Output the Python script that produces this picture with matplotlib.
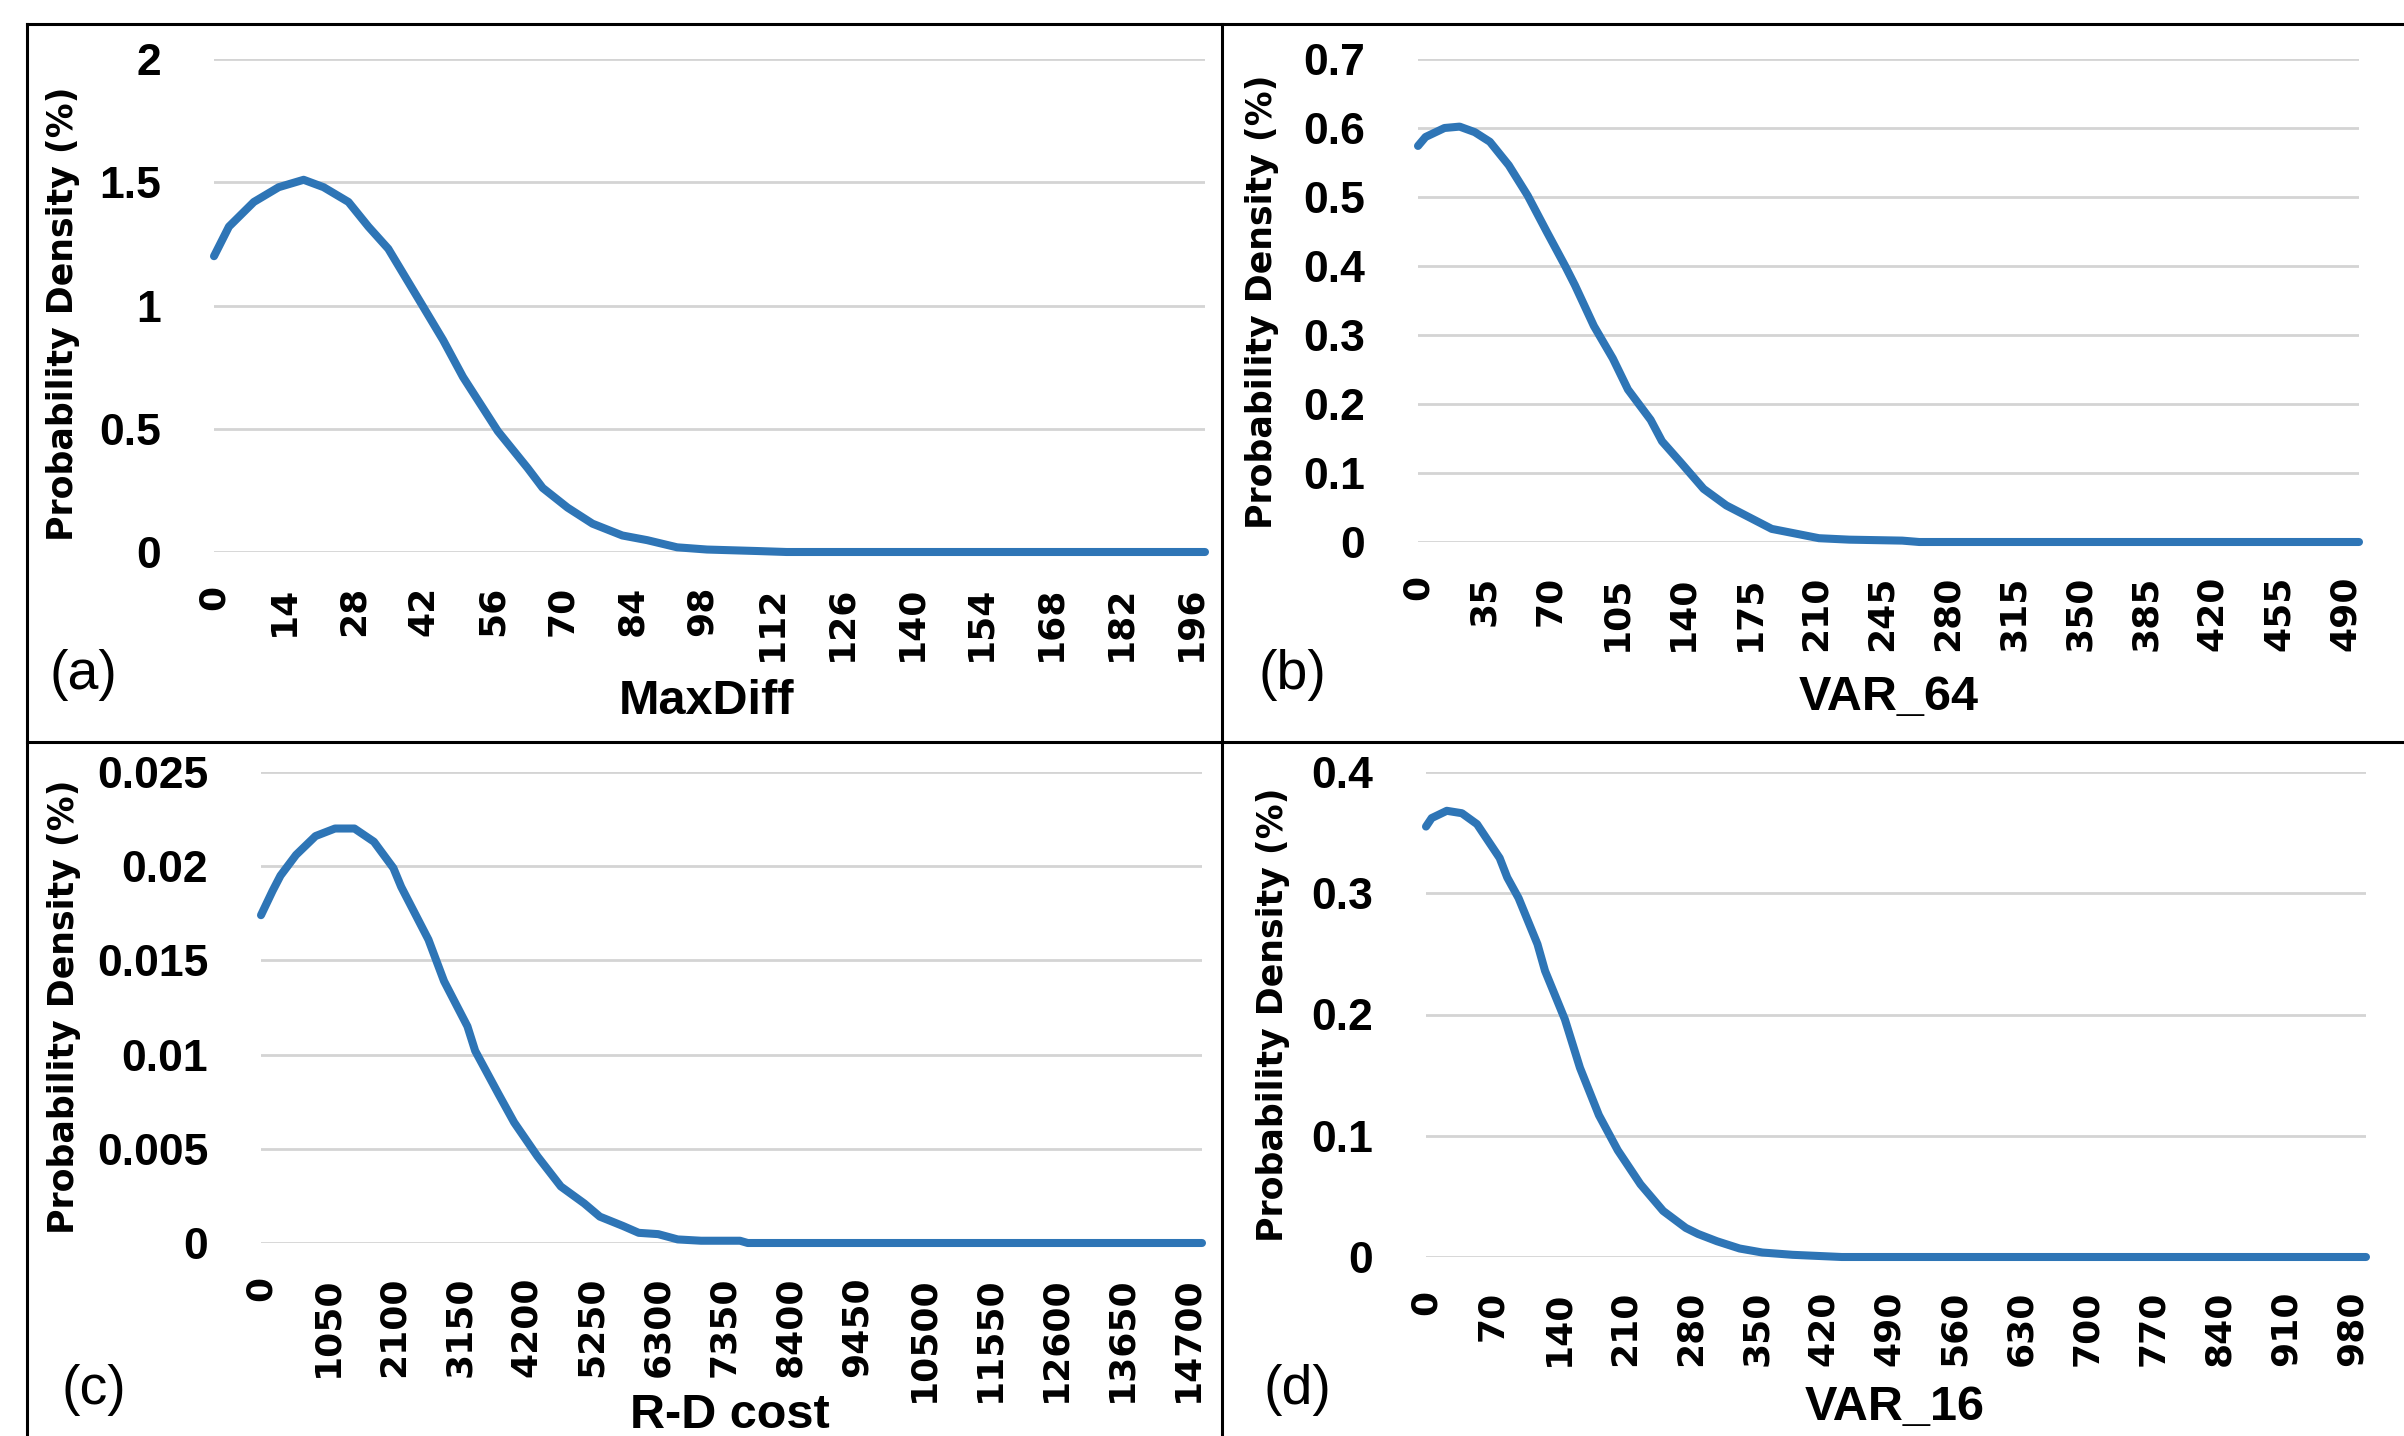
import numpy as np
import matplotlib
matplotlib.use('Agg')
import matplotlib.pyplot as plt
from matplotlib.lines import Line2D

# figure size in pixels (dpi 100)
W, H = 2404, 1436

LINE_COLOR = '#2E75B6'
GRID_COLOR = '#D4D4D4'
NARROW = ['Liberation Sans', 'DejaVu Sans']
WIDE = ['DejaVu Sans']

# (a) MaxDiff
maxdiff_x = [0, 3, 8, 13, 18, 22, 27, 31, 35, 42, 46, 50, 57, 63, 66, 71, 76,
             82, 87, 93, 99, 109, 115, 199]
maxdiff_y = [1.20, 1.32, 1.42, 1.48, 1.51, 1.48, 1.42, 1.32, 1.23, 0.995, 0.86,
             0.71, 0.49, 0.34, 0.26, 0.18, 0.115, 0.067, 0.048, 0.019, 0.010,
             0.004, 0.0, 0.0]

# (b) VAR_64
var64_x = [0, 4, 14, 22, 30, 38, 48, 58, 68, 78, 83, 93, 103, 111, 123, 129,
           139, 151, 163, 175, 187, 200, 212, 228, 256, 265, 497.5]
var64_y = [0.574, 0.587, 0.600, 0.602, 0.594, 0.580, 0.546, 0.502, 0.450, 0.399,
           0.372, 0.313, 0.266, 0.221, 0.177, 0.146, 0.115, 0.077, 0.053, 0.036,
           0.019, 0.012, 0.0055, 0.0034, 0.002, 0.0, 0.0]

# (c) R-D cost
rdcost_x = [0, 185, 309, 556, 865, 1174, 1482, 1791, 2100, 2224, 2656, 2903,
            3274, 3397, 3768, 4015, 4385, 4756, 5127, 5374, 5744, 5991, 6300,
            6609, 6980, 7597, 7720, 14925]
rdcost_y = [0.0174, 0.0187, 0.0195, 0.0206, 0.0216, 0.0220, 0.0220, 0.0213,
            0.0199, 0.0189, 0.0161, 0.0139, 0.0115, 0.0102, 0.0079, 0.0064,
            0.0046, 0.0030, 0.0021, 0.0014, 0.0009, 0.00054, 0.00047, 0.00019,
            0.00012, 0.00012, 0.0, 0.0]

# (d) VAR_16
var16_x = [0, 6, 22, 38, 54, 78, 86, 98, 118, 126, 147, 163, 183, 203, 227, 251,
           275, 288, 308, 332, 356, 388, 420, 440, 995]
var16_y = [0.355, 0.362, 0.368, 0.366, 0.357, 0.329, 0.313, 0.296, 0.258, 0.236,
           0.196, 0.156, 0.117, 0.088, 0.060, 0.038, 0.024, 0.019, 0.013, 0.007,
           0.0037, 0.0018, 0.0007, 0.0, 0.0]

# category step of the x axis (200 categories, label every 14th)
steps = [1, 2.5, 75, 5]
ymax = [2, 0.7, 0.025, 0.4]
ystep = [0.5, 0.1, 0.005, 0.1]
xnames = ['MaxDiff', 'VAR_64', 'R-D cost', 'VAR_16']
tags = ['(a)', '(b)', '(c)', '(d)']

# plot areas in pixels: left, top, right, bottom
boxes = [(214, 59, 1205, 552),
         (1418, 59, 2359, 542),
         (261, 772, 1202, 1243),
         (1426, 772, 2366, 1257)]
# text anchors in pixels
ylabel_pos = [(63, 314), (1262, 302), (64, 1007), (1273, 1015)]
xlabel_pos = [(707, 702), (1889, 697), (730, 1416), (1895, 1407)]
tag_pos = [(83, 675), (1292, 675), (94, 1390), (1297, 1390)]


def fx(px):
  return px / W


def fy(py):
  return 1 - py / H


def draw_panel(fig, i, xs, ys):
  l, t, r, b = boxes[i]
  ax = fig.add_axes([fx(l), fy(b), fx(r - l), (b - t) / H])
  ax.plot(xs, ys, color=LINE_COLOR, lw=5.8, solid_joinstyle='round',
          solid_capstyle='round', clip_on=False, zorder=3)

  step = steps[i]
  ax.set_xlim(0, 199 * step)
  ax.set_ylim(0, ymax[i])
  xt = np.arange(0, 199 * step + 1e-6, 14 * step)
  ax.set_xticks(xt)
  ax.set_xticklabels(['{:g}'.format(v) for v in xt], rotation=90,
                     family=WIDE, weight='bold', fontsize=26)
  yt = np.arange(0, ymax[i] + ystep[i] / 2, ystep[i])
  ax.set_yticks(yt)
  ax.set_yticklabels(['{:g}'.format(round(v, 4)) for v in yt],
                     family=NARROW, weight='bold', fontsize=32)
  ax.tick_params(axis='x', length=0, pad=24)
  ax.tick_params(axis='y', length=0, pad=38)

  ax.grid(axis='y', color=GRID_COLOR, lw=2.0)
  ax.set_axisbelow(True)
  for s in ax.spines.values():
    s.set_visible(False)

  x0, y0 = ylabel_pos[i]
  fig.text(fx(x0), fy(y0), 'Probability Density (%)', rotation=90,
           ha='center', va='center', family=WIDE, weight='bold', fontsize=25)
  x0, y0 = xlabel_pos[i]
  fig.text(fx(x0), fy(y0), xnames[i], ha='center', va='center',
           family=NARROW, weight='bold', fontsize=35)
  x0, y0 = tag_pos[i]
  fig.text(fx(x0), fy(y0), tags[i], ha='center', va='center',
           family=NARROW, fontsize=40)


def main():
  fig = plt.figure(figsize=(W / 100, H / 100), dpi=100)

  series = [(maxdiff_x, maxdiff_y), (var64_x, var64_y),
            (rdcost_x, rdcost_y), (var16_x, var16_y)]
  for i, (xs, ys) in enumerate(series):
    draw_panel(fig, i, xs, ys)

  # chart borders
  lw = 2.2
  fig.add_artist(Line2D([fx(27), 1], [fy(24), fy(24)], color='black', lw=lw))
  fig.add_artist(Line2D([fx(27), fx(27)], [fy(24), 0], color='black', lw=lw))
  fig.add_artist(Line2D([fx(1222), fx(1222)], [fy(24), 0], color='black', lw=lw))
  fig.add_artist(Line2D([fx(27), 1], [fy(742), fy(742)], color='black', lw=lw))

  fig.savefig('out.png', dpi=100, facecolor='white')
  plt.close('all')


if __name__ == '__main__':
  main()
